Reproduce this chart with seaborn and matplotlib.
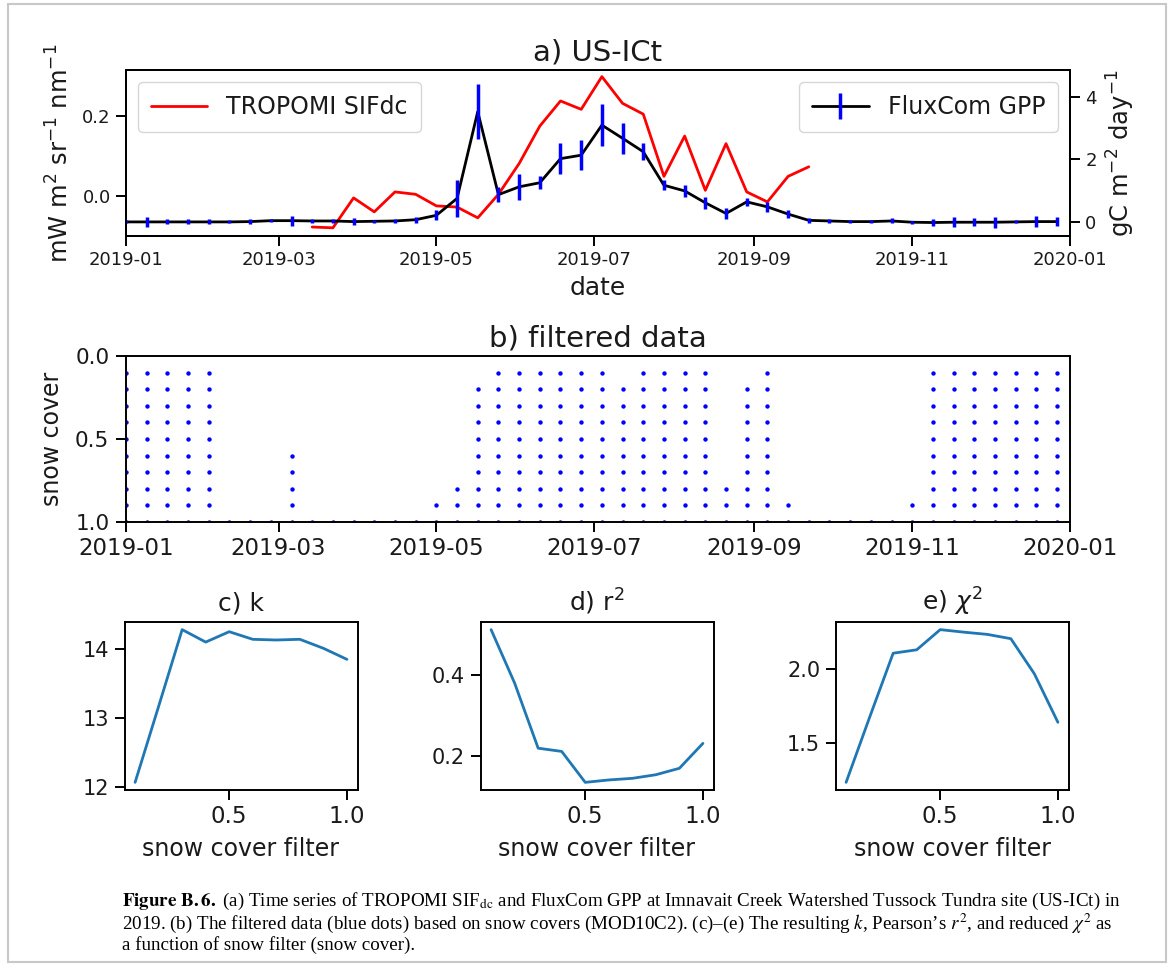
import numpy as np
import pandas as pd
import matplotlib
matplotlib.use("Agg")
import matplotlib.pyplot as plt
import matplotlib.dates as mdates
from matplotlib.lines import Line2D
from matplotlib.legend_handler import HandlerTuple
from matplotlib.patches import Rectangle
import seaborn as sns

# ---------------- data ----------------
# FluxCom 8-day composites (start dates)
dates = pd.date_range("2019-01-01", periods=46, freq="8D")
gpp = [0.00, 0.00, 0.00, 0.00, 0.00, 0.00, 0.01, 0.04, 0.04, 0.03,
       0.03, 0.01, 0.02, 0.03, 0.07, 0.21, 0.75, 3.52, 0.87, 1.12,
       1.25, 2.02, 2.13, 3.09, 2.67, 2.24, 1.17, 0.99, 0.61, 0.27,
       0.64, 0.48, 0.25, 0.05, 0.03, 0.01, 0.01, 0.03, -0.01, -0.02,
       -0.01, -0.01, -0.01, 0.00, 0.01, 0.01]
gpp_err = [0.05, 0.16, 0.08, 0.08, 0.08, 0.05, 0.08, 0.05, 0.16, 0.05,
           0.05, 0.10, 0.05, 0.05, 0.10, 0.16, 0.58, 0.87, 0.24, 0.42,
           0.20, 0.50, 0.48, 0.66, 0.50, 0.27, 0.16, 0.19, 0.20, 0.18,
           0.12, 0.16, 0.14, 0.08, 0.05, 0.05, 0.05, 0.08, 0.05, 0.10,
           0.16, 0.13, 0.17, 0.05, 0.17, 0.15]

sif_dates = pd.date_range("2019-03-14", periods=25, freq="8D")
sif = [-0.078, -0.080, -0.005, -0.040, 0.010, 0.004, -0.025, -0.028, -0.055,
       0.004, 0.081, 0.175, 0.238, 0.217, 0.299, 0.232, 0.205, 0.049, 0.150,
       0.014, 0.131, 0.010, -0.015, 0.049, 0.073]

# lowest snow-cover filter at which each date is kept
snow_min_filter = [0.1, 0.1, 0.1, 0.1, 0.1, 1.0, 1.0, 1.0, 0.6, 1.0,
                   1.0, 1.0, 1.0, 1.0, 1.0, 0.9, 0.8, 0.2, 0.1, 0.1,
                   0.1, 0.1, 0.1, 0.1, 0.2, 0.1, 0.1, 0.1, 0.1, 0.8,
                   0.2, 0.1, 0.9, 1.0, 1.0, 1.0, 1.0, 1.0, 0.9, 0.1,
                   0.1, 0.1, 0.1, 0.1, 0.1, 0.1]

filters = [0.1, 0.2, 0.3, 0.4, 0.5, 0.6, 0.7, 0.8, 0.9, 1.0]
k_vals = [12.07, 13.17, 14.28, 14.10, 14.25, 14.14, 14.13, 14.14, 14.01, 13.85]
r2_vals = [0.514, 0.381, 0.219, 0.211, 0.134, 0.140, 0.144, 0.153, 0.169, 0.231]
chi2_vals = [1.234, 1.673, 2.105, 2.128, 2.264, 2.247, 2.232, 2.203, 1.966, 1.639]

# ---------------- style ----------------
sns.set_theme(style="ticks")
plt.rcParams["font.family"] = ["DejaVu Sans"]
plt.rcParams.update({
    "axes.edgecolor": "black",
    "axes.linewidth": 1.4,
    "text.color": "#1a1a1a",
    "axes.labelcolor": "#1a1a1a",
    "xtick.color": "black",
    "ytick.color": "black",
    "xtick.labelcolor": "#1a1a1a",
    "ytick.labelcolor": "#1a1a1a",
    "xtick.major.size": 7,
    "ytick.major.size": 7,
    "xtick.major.width": 1.4,
    "ytick.major.width": 1.4,
    "mathtext.fontset": "dejavusans",
})

W, H = 1171, 971
fig = plt.figure(figsize=(W / 100, H / 100), dpi=100)
fig.patch.set_facecolor("white")


def ax_px(l, t, r, b):
    return fig.add_axes([l / W, 1 - b / H, (r - l) / W, (b - t) / H])


x0, x1 = pd.Timestamp("2019-01-01"), pd.Timestamp("2020-01-01")
month_loc = mdates.MonthLocator(bymonth=[1, 3, 5, 7, 9, 11])
month_fmt = mdates.DateFormatter("%Y-%m")

# ---------------- panel a ----------------
ax1 = ax_px(126, 70, 1070, 236)
sns.lineplot(x=sif_dates, y=sif, color="red", lw=2, ax=ax1, legend=False)
ax1.set_xlim(x0, x1)
ax1.set_ylim(-0.1005, 0.3156)
ax1.set_yticks([0.0, 0.2])
ax1.set_yticklabels(["0.0", "0.2"])
ax1.xaxis.set_major_locator(month_loc)
ax1.xaxis.set_major_formatter(month_fmt)
ax1.tick_params(labelsize=13, pad=4)
ax1.set_xlabel("date", fontsize=18, labelpad=5)
ax1.set_ylabel(r"mW m$^2$ sr$^{-1}$ nm$^{-1}$", fontsize=17.5, labelpad=6)
ax1.set_title("a) US-ICt", fontsize=21, pad=7)
sif_handle = Line2D([], [], color="red", lw=2)
ax1.legend([sif_handle], ["TROPOMI SIFdc"], loc="upper left", fontsize=17,
           handlelength=2.4, borderpad=0.55, framealpha=0.8, edgecolor="0.8")

ax2 = ax1.twinx()
sns.lineplot(x=dates, y=gpp, color="black", lw=2, ax=ax2, legend=False)
eb = ax2.errorbar(dates, gpp, yerr=gpp_err, fmt="none", ecolor="blue",
                  elinewidth=2.5, zorder=2.2)
ax2.set_xlim(x0, x1)
ax2.set_ylim(-0.45, 4.85)
ax2.set_yticks([0, 2, 4])
ax2.tick_params(labelsize=13, pad=4)
ax2.set_ylabel(r"gC m$^{-2}$ day$^{-1}$", fontsize=17.5, labelpad=6)
gpp_line = Line2D([], [], color="black", lw=2)
gpp_bar = Line2D([], [], color="blue", lw=2.5, marker="|", markersize=19,
                 markeredgewidth=2.5, linestyle="none")
ax2.legend([(gpp_line, gpp_bar)], ["FluxCom GPP"], loc="upper right",
           fontsize=17, handlelength=2.4, borderpad=0.55, framealpha=0.8,
           edgecolor="0.8", handler_map={tuple: HandlerTuple(ndivide=1)})

# ---------------- panel b ----------------
rows = []
for d, m in zip(dates, snow_min_filter):
    for f in filters:
        if f >= m - 1e-9:
            rows.append((d, f))
dots = pd.DataFrame(rows, columns=["date", "filter"])
axb = ax_px(126, 356, 1070, 522)
sns.scatterplot(data=dots, x="date", y="filter", color="blue", s=10,
                linewidth=0, ax=axb, legend=False)
axb.set_xlim(x0, x1)
axb.set_ylim(1.0, 0.0)
axb.set_yticks([0.0, 0.5, 1.0])
axb.set_yticklabels(["0.0", "0.5", "1.0"])
axb.xaxis.set_major_locator(month_loc)
axb.xaxis.set_major_formatter(month_fmt)
axb.tick_params(axis="x", labelsize=16.5, pad=4)
axb.tick_params(axis="y", labelsize=15.5, pad=5)
axb.set_xlabel("")
axb.set_ylabel("snow cover", fontsize=17, labelpad=8)
axb.set_title("b) filtered data", fontsize=21, pad=7)

# ---------------- panels c-e ----------------
panel_specs = [
    (124.5, k_vals, "c) k", [12, 13, 14], ["12", "13", "14"]),
    (480.5, r2_vals, r"d) r$^2$", [0.2, 0.4], ["0.2", "0.4"]),
    (835.5, chi2_vals, r"e) $\chi^2$", [1.5, 2.0], ["1.5", "2.0"]),
]
for left, vals, title, yt, ytl in panel_specs:
    ax = ax_px(left, 622, left + 233, 790)
    sns.lineplot(x=filters, y=vals, color="#1f77b4", lw=2, ax=ax)
    ax.set_xlim(0.055, 1.045)
    vmin, vmax = min(vals), max(vals)
    pad = 0.05 * (vmax - vmin)
    ax.set_ylim(vmin - pad, vmax + pad)
    ax.set_xticks([0.5, 1.0])
    ax.set_xticklabels(["0.5", "1.0"])
    ax.set_yticks(yt)
    ax.set_yticklabels(ytl)
    ax.tick_params(axis="x", labelsize=16.5, pad=4)
    ax.tick_params(axis="y", labelsize=15, pad=4)
    ax.set_xlabel("snow cover filter", fontsize=17, labelpad=6)
    ax.set_title(title, fontsize=18, pad=8)

# ---------------- caption ----------------
cap_font = dict(family="Liberation Serif", fontsize=13.7, color="black",
                ha="left", va="center")
plt.rcParams["mathtext.fontset"] = "stix"
lines = [
    r"$\mathbf{Figure\ B.6.}$ (a) Time series of TROPOMI SIF$_{\mathrm{dc}}$ and FluxCom GPP at Imnavait Creek Watershed Tussock Tundra site (US-ICt) in",
    r"2019. (b) The filtered data (blue dots) based on snow covers (MOD10C2). (c)–(e) The resulting $k$, Pearson’s $r^2$, and reduced $\chi^2$ as",
    "a function of snow filter (snow cover).",
]
for i, ln in enumerate(lines):
    fig.text(122 / W, 1 - (901 + 22 * i) / H, ln, **cap_font)

# figure border
fig.patches.append(Rectangle((8 / W, 1 - 962 / H), (1166 - 8) / W, (962 - 4) / H,
                             transform=fig.transFigure, fill=False,
                             edgecolor="#c8c8c8", lw=1.5))

fig.savefig("out.png", dpi=100, facecolor="white")
